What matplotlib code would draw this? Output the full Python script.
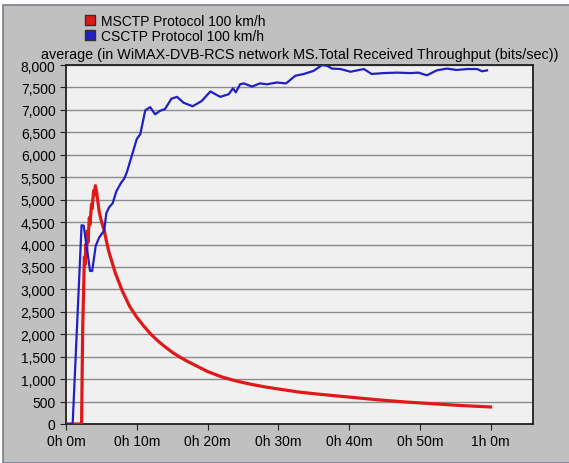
import matplotlib
matplotlib.use("Agg")
import matplotlib.pyplot as plt
from matplotlib.patches import Patch, Rectangle
from matplotlib.ticker import FuncFormatter

plt.rcParams["font.family"] = ["Liberation Sans", "DejaVu Sans"]

# time in minutes, throughput in bits/sec
cs_time = [0, 0.94, 2.2, 2.5, 3.4, 3.7, 4.2, 4.7, 5.4, 5.7, 6.1, 6.6, 7.1, 7.8,
           8.2, 8.6, 9.3, 10.0, 10.5, 11.2, 11.9, 12.6, 13.3, 14.0, 14.9, 15.7,
           16.6, 17.9, 19.2, 20.4, 21.8, 23.0, 23.6, 24.0, 24.6, 25.1, 26.3,
           27.4, 28.4, 29.8, 31.1, 32.4, 33.6, 35.0, 36.2, 36.9, 37.6, 38.8,
           40.2, 42.1, 43.2, 44.9, 46.8, 48.7, 49.8, 51.0, 52.4, 53.8, 55.2,
           56.7, 58.1, 58.8, 59.5]
cs_vals = [0, 0, 4430, 4420, 3410, 3410, 3970, 4160, 4310, 4700, 4830, 4920,
           5180, 5380, 5460, 5610, 5980, 6350, 6460, 6990, 7060, 6900, 6980,
           7020, 7250, 7290, 7160, 7080, 7200, 7410, 7290, 7350, 7480, 7390,
           7570, 7590, 7520, 7590, 7570, 7610, 7590, 7760, 7800, 7870, 8000,
           7980, 7920, 7910, 7850, 7910, 7800, 7820, 7830, 7820, 7830, 7770,
           7880, 7920, 7890, 7910, 7910, 7860, 7880]

ms_time = [0, 2.2, 2.36, 2.6, 2.7, 2.8, 2.9, 3.0, 3.1, 3.3, 3.4, 3.6, 3.7, 3.9,
           4.0, 4.15, 4.3, 4.7, 5.0, 5.4, 6.0, 7.0, 8.0, 9.0, 10.0, 11.0, 12.0,
           13.0, 14.0, 15.0, 16.0, 17.0, 18.0, 19.0, 20.0, 22.0, 24.0, 26.0,
           28.0, 30.0, 33.0, 36.0, 40.0, 44.0, 48.0, 52.0, 56.0, 60.0]
ms_vals = [0, 0, 2120, 3720, 3550, 4000, 3750, 4300, 4050, 4600, 4450, 4900,
           4800, 5200, 5100, 5310, 5200, 4720, 4520, 4310, 3870, 3350, 2950,
           2620, 2380, 2180, 2000, 1850, 1720, 1600, 1500, 1410, 1330, 1250,
           1170, 1050, 960, 890, 830, 780, 710, 660, 600, 540, 490, 450, 410, 380]

x_ticks = [0, 10, 20, 30, 40, 50, 60]
x_labels = ["0h 0m", "0h 10m", "0h 20m", "0h 30m", "0h 40m", "0h 50m", "1h 0m"]

W, H = 569, 464
fig = plt.figure(figsize=(W / 100, H / 100), dpi=100, facecolor="white")

# grey panel behind everything
fig.patches.append(Rectangle((3 / W, 0), 1, 1 - 6 / H, transform=fig.transFigure,
                             facecolor="#c0c0c0", edgecolor="#7a7f88",
                             linewidth=1.2, zorder=-10))

ax = fig.add_axes([66 / W, 1 - 425 / H, (533 - 66) / W, (425 - 66) / H])
ax.set_facecolor("#f0f0f0")

ax.plot(ms_time, ms_vals, color="#e01818", linewidth=2.3, zorder=3)
ax.plot(cs_time, cs_vals, color="#2020c4", linewidth=1.6, zorder=4)

ax.set_xlim(0, 66)
ax.set_ylim(0, 8000)
ax.set_yticks(range(0, 8001, 500))
ax.yaxis.set_major_formatter(FuncFormatter(lambda v, p: f"{int(v):,}"))
ax.set_xticks(x_ticks)
ax.set_xticklabels(x_labels)
ax.tick_params(labelsize=10, length=4.5, color="#202020", pad=3)
ax.grid(axis="y", color="#8c8c8c", linewidth=1)
for s in ax.spines.values():
    s.set_color("#202020")
    s.set_linewidth(1.3)

ax.set_title("average (in WiMAX-DVB-RCS network MS.Total Received Throughput (bits/sec))",
             fontsize=10.4, pad=5)

handles = [Patch(facecolor="#e01818", edgecolor="#303030", label="MSCTP Protocol 100 km/h"),
           Patch(facecolor="#2020c4", edgecolor="#303030", label="CSCTP Protocol 100 km/h")]
fig.legend(handles=handles, loc="upper left", bbox_to_anchor=(75 / W, 1 - 5 / H),
           frameon=False, fontsize=10, handlelength=0.75, handleheight=0.75,
           handletextpad=0.4, labelspacing=0.1, borderpad=0.2)

fig.savefig("out.png", dpi=100, facecolor=fig.get_facecolor())
